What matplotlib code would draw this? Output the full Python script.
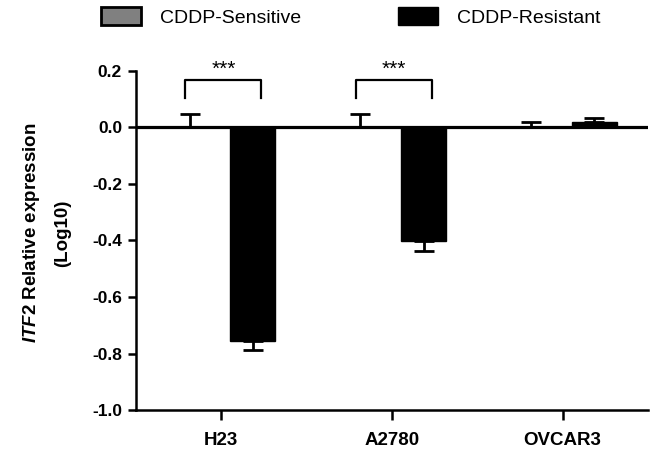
import numpy as np
import matplotlib
matplotlib.use("Agg")
import matplotlib.pyplot as plt

plt.rcParams['font.family'] = ['Liberation Sans', 'DejaVu Sans']
plt.rcParams['axes.unicode_minus'] = False
plt.rcParams['mathtext.fontset'] = 'custom'
plt.rcParams['mathtext.it'] = 'Liberation Sans:italic:bold'
plt.rcParams['mathtext.rm'] = 'Liberation Sans:bold'

# data
cell_lines = ['H23', 'A2780', 'OVCAR3']
sensitive = [0.0, 0.0, 0.0]
sensitive_err = [0.046, 0.046, 0.019]
resistant = [-0.755, -0.401, 0.021]
resistant_err = [0.034, 0.035, 0.014]
series_names = ['CDDP-Sensitive', 'CDDP-Resistant']
sig_groups = [0, 1]
sig_labels = ['***', '***']
y_ticks = [-1.0, -0.8, -0.6, -0.4, -0.2, 0.0, 0.2]

x = np.arange(len(cell_lines))
bar_w = 0.265
off = 0.185

fig = plt.figure(figsize=(6.62, 4.51), dpi=100)
ax = fig.add_axes([0.2054, 0.0909, 0.7734, 0.7517])

b1 = ax.bar(x - off, sensitive, bar_w, color='#808080', edgecolor='black',
            linewidth=2, zorder=2, label=series_names[0])
b2 = ax.bar(x + off, resistant, bar_w, color='black', edgecolor='black',
            linewidth=1, zorder=2, label=series_names[1])

# one-sided error bars (GraphPad style)
ax.errorbar(x - off, sensitive, yerr=[np.zeros(3), sensitive_err], fmt='none',
            ecolor='black', elinewidth=2, capsize=7.5, capthick=2, zorder=3)
res = np.array(resistant)
res_err = np.array(resistant_err)
lower = np.where(res < 0, res_err, 0)
upper = np.where(res >= 0, res_err, 0)
ax.errorbar(x + off, resistant, yerr=[lower, upper], fmt='none',
            ecolor='black', elinewidth=2, capsize=7.5, capthick=2, zorder=3)

ax.axhline(0, color='black', linewidth=2.3, zorder=2.5)

# significance brackets
for g, lab in zip(sig_groups, sig_labels):
    xl, xr = g - 0.21, g + 0.235
    ax.plot([xl, xl, xr, xr], [0.103, 0.167, 0.167, 0.103], color='black',
            linewidth=1.6, clip_on=False, zorder=4)
    ax.text((xl + xr) / 2, 0.172, lab, ha='center', va='bottom',
            fontsize=15, clip_on=False)

ax.set_xlim(-0.5, 2.5)
ax.set_ylim(-1.0, 0.2)
ax.set_yticks(y_ticks)
ax.set_yticklabels([f'{v:.1f}' for v in y_ticks])
ax.set_xticks(x)
ax.set_xticklabels(cell_lines)

for s in ['top', 'right']:
    ax.spines[s].set_visible(False)
for s in ['left', 'bottom']:
    ax.spines[s].set_linewidth(1.8)

ax.tick_params(axis='y', direction='out', length=6, width=1.8, pad=4,
               labelsize=12.5)
ax.tick_params(axis='x', direction='out', length=7, width=1.8, pad=9,
               labelsize=13.5)
for lbl in ax.get_xticklabels() + ax.get_yticklabels():
    lbl.set_fontweight('bold')

# y label, two lines
fig.text(32 / 662, 1 - 233 / 451, r'$\mathit{ITF2}$ Relative expression',
         rotation=90, ha='center', va='center', fontsize=13.5, fontweight='bold')
fig.text(63 / 662, 1 - 233 / 451, '(Log10)', rotation=90, ha='center',
         va='center', fontsize=13.5, fontweight='bold')

fig.legend(handles=[b1, b2], labels=series_names, ncol=2, frameon=False,
           loc='upper left', bbox_to_anchor=(101 / 662, 1 - 7 / 451),
           fontsize=14, handlelength=2.05, handleheight=1.08,
           handletextpad=1.0, columnspacing=4.95, borderpad=0,
           borderaxespad=0)

fig.savefig('out.png', dpi=100)
